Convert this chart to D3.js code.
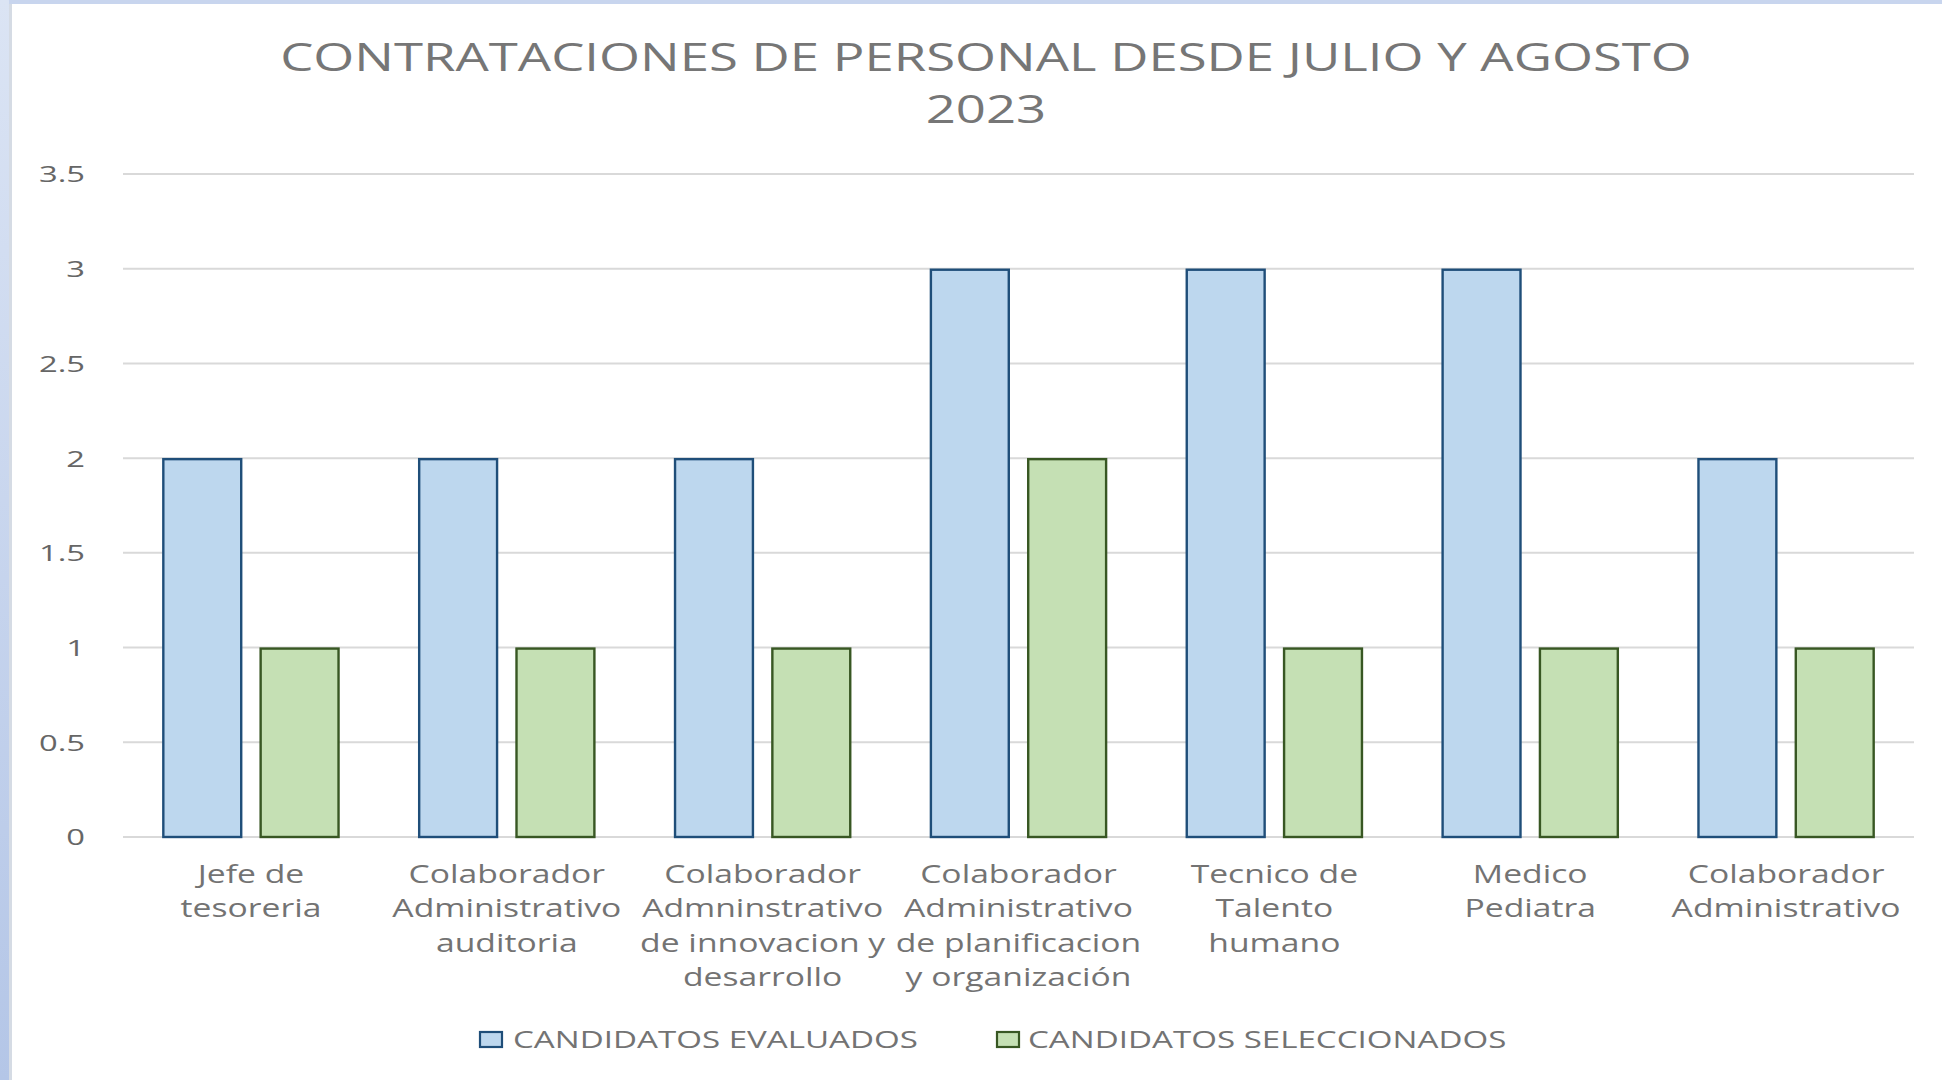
<!DOCTYPE html>
<html>
<head>
<meta charset="utf-8">
<script src="https://cdn.jsdelivr.net/npm/d3@7"></script>
<style>
  html, body { margin: 0; padding: 0; background: #ffffff; }
  svg { display: block; }
  text { font-family: "Open Sans", "DejaVu Sans", sans-serif; }
</style>
</head>
<body>
<svg id="chart" width="1942" height="1080"></svg>
<script>
// ---- data ----
const titleLines = ["CONTRATACIONES DE PERSONAL DESDE JULIO Y AGOSTO", "2023"];
const categories = [
  "Jefe de\ntesoreria",
  "Colaborador\nAdministrativo\nauditoria",
  "Colaborador\nAdmninstrativo\nde innovacion y\ndesarrollo",
  "Colaborador\nAdministrativo\nde planificacion\ny organización",
  "Tecnico de\nTalento\nhumano",
  "Medico\nPediatra",
  "Colaborador\nAdministrativo"
];
const seriesNames = ["CANDIDATOS EVALUADOS", "CANDIDATOS SELECCIONADOS"];
const evaluados = [2, 2, 2, 3, 3, 3, 2];
const seleccionados = [1, 1, 1, 2, 1, 1, 1];
const yTicks = [0, 0.5, 1, 1.5, 2, 2.5, 3, 3.5];
const yTickLabels = ["0", "0.5", "1", "1.5", "2", "2.5", "3", "3.5"];

// ---- layout ----
const W = 1942, H = 1080;
const plot = { left: 123, right: 1914, top: 174, bottom: 837 };
const fills = ["#bdd7ee", "#c5e0b4"];
const strokes = ["#1f4e79", "#385723"];
const textGray = "#737373";

const svg = d3.select("#chart");

// background & frame
const defs = svg.append("defs");
const grad = defs.append("linearGradient").attr("id", "lb").attr("x1", 0).attr("y1", 0).attr("x2", 0).attr("y2", 1);
grad.append("stop").attr("offset", "0%").attr("stop-color", "#dbe4f4");
grad.append("stop").attr("offset", "100%").attr("stop-color", "#b4c6e7");
svg.append("rect").attr("width", W).attr("height", H).attr("fill", "#ffffff");
svg.append("rect").attr("x", 0).attr("y", 0).attr("width", W).attr("height", 4).attr("fill", "#c8d5ee");
svg.append("rect").attr("x", 0).attr("y", 0).attr("width", 9).attr("height", H).attr("fill", "url(#lb)");
svg.append("rect").attr("x", 9).attr("y", 4).attr("width", 3).attr("height", H).attr("fill", "#d5dbe4");

// helper: measure natural width
function measure(str, size) {
  const t = svg.append("text").attr("font-size", size).text(str);
  const w = t.node().getComputedTextLength();
  t.remove();
  return w;
}

// scales
const x0 = d3.scaleBand().domain(categories).range([plot.left, plot.right]).paddingInner(0).paddingOuter(0);
const x1 = d3.scaleBand().domain([0, 1]).range([0, x0.bandwidth()]).paddingInner(0.175).paddingOuter(0.402);
const y = d3.scaleLinear().domain([0, 3.5]).range([plot.bottom, plot.top]);

// gridlines
svg.append("g").selectAll("line").data(yTicks).join("line")
  .attr("x1", plot.left).attr("x2", plot.right)
  .attr("y1", d => y(d)).attr("y2", d => y(d))
  .attr("stroke", "#d9d9d9").attr("stroke-width", 2);

// y axis
const yFont = 22;
const kY = 46 / measure("3.5", yFont);
const yAxis = svg.append("g").attr("transform", `translate(${plot.left},0)`)
  .call(d3.axisLeft(y).tickValues(yTicks).tickSize(0).tickFormat((d, i) => yTickLabels[i]));
yAxis.select(".domain").remove();
yAxis.selectAll("text")
  .attr("x", 0).attr("dy", "0.36em")
  .attr("text-anchor", "end")
  .attr("transform", `translate(-38,0) scale(${kY},1)`)
  .attr("font-size", yFont).attr("font-family", "Open Sans")
  .attr("fill", "#666666");

// bars
const series = [evaluados, seleccionados];
const groups = svg.append("g").selectAll("g").data(categories).join("g")
  .attr("transform", d => `translate(${x0(d)},0)`);
groups.selectAll("rect").data((d, i) => series.map((s, si) => ({ si, v: s[i] }))).join("rect")
  .attr("x", d => x1(d.si) + 1.2)
  .attr("width", x1.bandwidth() - 2.4)
  .attr("y", d => y(d.v) + 1)
  .attr("height", d => y(0) - y(d.v) - 1)
  .attr("fill", d => fills[d.si])
  .attr("stroke", d => strokes[d.si])
  .attr("stroke-width", 2.4);

// x axis
const xFont = 25;
const kX = 229 / measure("Administrativo", xFont);
const xAxis = svg.append("g").attr("transform", `translate(0,${plot.bottom})`)
  .call(d3.axisBottom(x0).tickSize(0).tickFormat(""));
xAxis.select(".domain").remove();
xAxis.selectAll(".tick").each(function (d) {
  const lines = d.split("\n");
  const g = d3.select(this);
  g.selectAll("text").remove();
  lines.forEach((ln, li) => {
    g.append("text")
      .attr("text-anchor", "middle")
      .attr("transform", `translate(0,${46 + li * 34.3}) scale(${kX},1)`)
      .attr("font-size", xFont)
      .attr("fill", textGray)
      .text(ln);
  });
});

// title
const tFont = 39;
const kT = 1412 / measure(titleLines[0], tFont);
const titleCx = 986;
[70.5, 123].forEach((by, i) => {
  svg.append("text")
    .attr("text-anchor", "middle")
    .attr("transform", `translate(${titleCx},${by}) scale(${kT},1)`)
    .attr("font-size", tFont)
    .attr("fill", "#767676")
    .text(titleLines[i]);
});

// legend
const lFont = 23;
const kL = 405 / measure(seriesNames[0], lFont);
const legendItems = [
  { bx: 479, tx: 513 },
  { bx: 996, tx: 1028 }
];
legendItems.forEach((it, i) => {
  svg.append("rect")
    .attr("x", it.bx + 1).attr("y", 1032).attr("width", 22).attr("height", 15)
    .attr("fill", fills[i]).attr("stroke", strokes[i]).attr("stroke-width", 2.2);
  svg.append("text")
    .attr("transform", `translate(${it.tx},1048) scale(${kL},1)`)
    .attr("font-size", lFont)
    .attr("fill", textGray)
    .text(seriesNames[i]);
});
</script>
</body>
</html>
